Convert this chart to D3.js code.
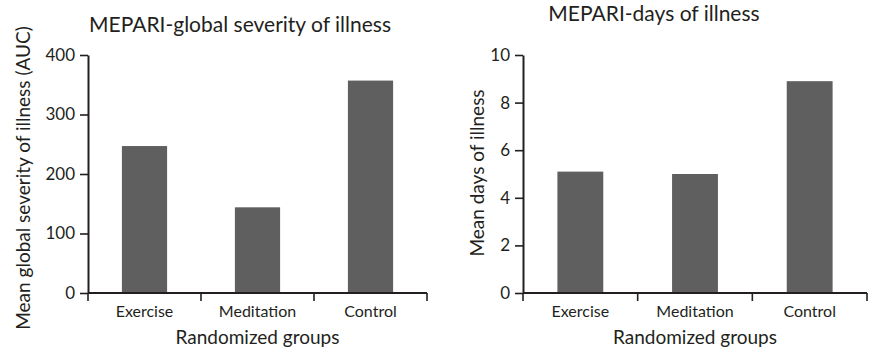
<!DOCTYPE html>
<html>
<head>
<meta charset="utf-8">
<script src="https://cdn.jsdelivr.net/npm/d3@7"></script>
<style>
  body { margin: 0; background: #fff; }
  svg { display: block; font-family: Lato, "Open Sans", sans-serif; }
  text { fill: #231f20; }
</style>
</head>
<body>
<svg id="chart" width="870" height="350"></svg>
<script>
const categories = ["Exercise", "Meditation", "Control"];
const severityValues = [247, 144, 357];
const daysValues = [5.1, 5.0, 8.9];
const severityTicks = [0, 100, 200, 300, 400];
const daysTicks = [0, 2, 4, 6, 8, 10];

const svg = d3.select("#chart");
const barColor = "#5f5f60";
const ink = "#231f20";

function panel(cfg) {
  const g = svg.append("g");
  const x = d3.scaleBand().domain(categories).range([cfg.x0, cfg.x1]).padding(0);
  const y = d3.scaleLinear().domain(cfg.domain).range([cfg.yBottom, cfg.yTop]);
  const bw = x.bandwidth() * 0.4;

  // bars
  g.selectAll("rect.bar").data(cfg.values).join("rect")
    .attr("class", "bar")
    .attr("x", (d, i) => x(categories[i]) + (x.bandwidth() - bw) / 2)
    .attr("width", bw)
    .attr("y", d => y(d))
    .attr("height", d => y(0) - y(d))
    .attr("fill", barColor);

  // y axis
  const yAxis = d3.axisLeft(y).tickValues(cfg.ticks).tickSize(8).tickSizeOuter(0).tickPadding(5);
  const ya = g.append("g").attr("transform", `translate(${cfg.x0},0)`).call(yAxis);
  ya.select(".domain").attr("stroke", ink).attr("stroke-width", 2);
  ya.selectAll(".tick line").attr("stroke", ink).attr("stroke-width", 1.6);
  ya.selectAll(".tick text").attr("font-size", 17).attr("font-family", "Lato").style("fill", ink);

  // x axis: line + boundary ticks
  const boundaries = categories.map(c => x(c)).concat([cfg.x1]);
  g.append("line").attr("x1", cfg.x0).attr("x2", cfg.x1)
    .attr("y1", y(0)).attr("y2", y(0)).attr("stroke", ink).attr("stroke-width", 2);
  g.selectAll("line.xt").data(boundaries).join("line").attr("class", "xt")
    .attr("x1", d => d).attr("x2", d => d)
    .attr("y1", y(0)).attr("y2", y(0) + 8)
    .attr("stroke", ink).attr("stroke-width", 1.6);
  g.selectAll("text.cat").data(categories).join("text").attr("class", "cat")
    .attr("x", d => x(d) + x.bandwidth() / 2)
    .attr("y", y(0) + 24)
    .attr("text-anchor", "middle")
    .attr("font-size", 16)
    .text(d => d);

  // x axis title
  g.append("text")
    .attr("x", (cfg.x0 + cfg.x1) / 2)
    .attr("y", cfg.xTitleY)
    .attr("text-anchor", "middle")
    .attr("font-size", 19)
    .text("Randomized groups");

  // y axis title
  g.append("text")
    .attr("transform", `translate(${cfg.yTitleX},${cfg.yTitleCY}) rotate(-90)`)
    .attr("text-anchor", "middle")
    .attr("font-size", 19)
    .text(cfg.yTitle);

  // chart title
  g.append("text")
    .attr("x", cfg.titleX)
    .attr("y", cfg.titleY)
    .attr("text-anchor", "middle")
    .attr("font-size", 21)
    .text(cfg.title);
}

panel({
  x0: 88, x1: 427, yBottom: 293, yTop: 55,
  domain: [0, 400], ticks: severityTicks, values: severityValues,
  xTitleY: 344, yTitleX: 30, yTitleCY: 178,
  yTitle: "Mean global severity of illness (AUC)",
  title: "MEPARI-global severity of illness", titleX: 240, titleY: 32
});

panel({
  x0: 523, x1: 867, yBottom: 293, yTop: 55,
  domain: [0, 10], ticks: daysTicks, values: daysValues,
  xTitleY: 344, yTitleX: 484, yTitleCY: 173,
  yTitle: "Mean days of illness",
  title: "MEPARI-days of illness", titleX: 654, titleY: 21
});
</script>
</body>
</html>
